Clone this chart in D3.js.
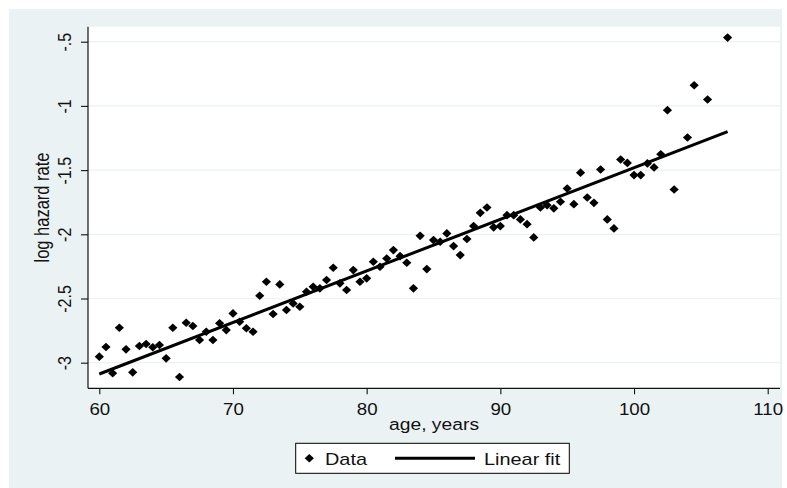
<!DOCTYPE html>
<html>
<head>
<meta charset="utf-8">
<script src="https://cdn.jsdelivr.net/npm/d3@7"></script>
<style>
  html, body { margin: 0; padding: 0; background: #fff; }
  svg { display: block; font-family: "Liberation Sans", Arial, sans-serif; }
</style>
</head>
<body>
<svg id="chart" width="787" height="488"></svg>
<script>
/* ───────────── DATA ───────────── */
const ages = [
  60, 60.5, 61, 61.5, 62, 62.5, 63, 63.5, 64, 64.5,
  65, 65.5, 66, 66.5, 67, 67.5, 68, 68.5, 69, 69.5,
  70, 70.5, 71, 71.5, 72, 72.5, 73, 73.5, 74, 74.5,
  75, 75.5, 76, 76.5, 77, 77.5, 78, 78.5, 79, 79.5,
  80, 80.5, 81, 81.5, 82, 82.5, 83, 83.5, 84, 84.5,
  85, 85.5, 86, 86.5, 87, 87.5, 88, 88.5, 89, 89.5,
  90, 90.5, 91, 91.5, 92, 92.5, 93, 93.5, 94, 94.5,
  95, 95.5, 96, 96.5, 97, 97.5, 98, 98.5, 99, 99.5,
  100, 100.5, 101, 101.5, 102, 102.5, 103, 104, 104.5, 105.5,
  107
];
const logHazard = [
  -2.953, -2.878, -3.082, -2.728, -2.896, -3.075, -2.870, -2.854, -2.880, -2.862,
  -2.966, -2.728, -3.111, -2.689, -2.714, -2.823, -2.759, -2.823, -2.693, -2.746,
  -2.616, -2.681, -2.732, -2.759, -2.479, -2.370, -2.621, -2.390, -2.590, -2.538,
  -2.564, -2.447, -2.409, -2.421, -2.356, -2.261, -2.382, -2.434, -2.279, -2.370,
  -2.343, -2.214, -2.253, -2.188, -2.123, -2.170, -2.222, -2.421, -2.012, -2.271,
  -2.045, -2.058, -1.993, -2.092, -2.162, -2.037, -1.936, -1.833, -1.791, -1.946,
  -1.936, -1.851, -1.851, -1.884, -1.921, -2.024, -1.791, -1.773, -1.798, -1.747,
  -1.643, -1.765, -1.520, -1.713, -1.755, -1.495, -1.884, -1.954, -1.417, -1.444,
  -1.539, -1.539, -1.448, -1.479, -1.376, -1.033, -1.651, -1.246, -0.839, -0.950,
  -0.468
];
const fitAges      = [60, 107];
const fitLogHazard = [-3.088, -1.201];

const xTicks       = [60, 70, 80, 90, 100, 110];
const yTicks       = [-3, -2.5, -2, -1.5, -1, -0.5];
const yTickLabels  = ["-3", "-2.5", "-2", "-1.5", "-1", "-.5"];
const xTitle       = "age, years";
const yTitle       = "log hazard rate";
const legendLabels = ["Data", "Linear fit"];

/* ───────────── LAYOUT ───────────── */
const W = 787, H = 488;
const plot = { left: 88, right: 780, top: 26.7, bottom: 388.3 };
const STRETCH = 1.17;            // the original text is a bit wide
const BG = "#eaf2f3";
const INK = "#111";

const svg = d3.select("#chart");

const x = d3.scaleLinear().domain([60, 110]).range([99.3, 767.7]);
const y = d3.scaleLinear().domain([-3, -0.5]).range([362.7, 41.7]);

// diamond marker, slightly wider than tall
const diamond = {
  draw(ctx) {
    const w = 4.6, h = 4.3;
    ctx.moveTo(0, -h); ctx.lineTo(w, 0); ctx.lineTo(0, h); ctx.lineTo(-w, 0); ctx.closePath();
  }
};
const marker = d3.symbol().type(diamond);

/* backgrounds */
svg.append("rect").attr("width", W).attr("height", H).attr("fill", "#fff");
svg.append("rect").attr("x", 9).attr("y", 9).attr("width", 773).attr("height", H - 9).attr("fill", BG);
svg.append("rect")
   .attr("x", plot.left).attr("y", plot.top)
   .attr("width", plot.right - plot.left).attr("height", plot.bottom - plot.top)
   .attr("fill", "#fff");

/* gridlines */
svg.append("g").selectAll("line").data(yTicks).join("line")
   .attr("x1", plot.left).attr("x2", plot.right)
   .attr("y1", d => y(d)).attr("y2", d => y(d))
   .attr("stroke", BG).attr("stroke-width", 1.2);

/* x axis */
const gx = svg.append("g")
   .attr("transform", `translate(0,${plot.bottom})`)
   .call(d3.axisBottom(x).tickValues(xTicks).tickSize(6).tickFormat(d3.format("d")));
gx.select(".domain").remove();
gx.selectAll(".tick line").attr("stroke", INK).attr("stroke-width", 1.1);
gx.selectAll(".tick text")
   .attr("y", 27).attr("dy", null)
   .attr("transform", `scale(${STRETCH},1)`)
   .attr("fill", INK).style("font-size", "16px");

/* y axis */
const gy = svg.append("g")
   .attr("transform", `translate(${plot.left},0)`)
   .call(d3.axisLeft(y).tickValues(yTicks).tickSize(7)
           .tickFormat((d, i) => yTickLabels[i]));
gy.select(".domain").remove();
gy.selectAll(".tick line").attr("stroke", INK).attr("stroke-width", 1.1);
gy.selectAll(".tick text")
   .attr("x", null).attr("dy", null)
   .attr("text-anchor", "middle")
   .attr("transform", `translate(-17,0) scale(${STRETCH},1) rotate(-90)`)
   .attr("fill", INK).style("font-size", "16px");

/* axis lines */
svg.append("line")
   .attr("x1", plot.left).attr("x2", plot.left)
   .attr("y1", plot.top).attr("y2", plot.bottom)
   .attr("stroke", INK).attr("stroke-width", 1.2);
svg.append("line")
   .attr("x1", plot.left).attr("x2", plot.right)
   .attr("y1", plot.bottom).attr("y2", plot.bottom)
   .attr("stroke", INK).attr("stroke-width", 1.2);

/* axis titles */
svg.append("text")
   .attr("transform", `translate(${(plot.left + plot.right) / 2},430) scale(${STRETCH},1)`)
   .attr("text-anchor", "middle").attr("fill", INK).style("font-size", "16.5px")
   .text(xTitle);
svg.append("text")
   .attr("transform", `translate(48.5,${(plot.top + plot.bottom) / 2}) scale(${STRETCH},1) rotate(-90)`)
   .attr("text-anchor", "middle").attr("fill", INK).style("font-size", "16.5px")
   .text(yTitle);

/* data points */
svg.append("g").selectAll("path").data(ages).join("path")
   .attr("d", marker)
   .attr("transform", (d, i) => `translate(${x(d)},${y(logHazard[i])})`)
   .attr("fill", "#000");

/* linear fit */
const line = d3.line().x(d => x(d[0])).y(d => y(d[1]));
svg.append("path")
   .datum(fitAges.map((a, i) => [a, fitLogHazard[i]]))
   .attr("d", line)
   .attr("fill", "none").attr("stroke", "#000").attr("stroke-width", 3);

/* legend */
const lg = svg.append("g");
lg.append("rect")
  .attr("x", 295.7).attr("y", 443.3).attr("width", 273.6).attr("height", 30)
  .attr("fill", "#fff").attr("stroke", "#000").attr("stroke-width", 1);
lg.append("path").attr("d", marker).attr("transform", "translate(309.3,458.3)").attr("fill", "#000");
lg.append("text")
  .attr("transform", `translate(325,465) scale(${STRETCH},1)`)
  .attr("fill", INK).style("font-size", "17px").text(legendLabels[0]);
lg.append("line")
  .attr("x1", 395).attr("x2", 475).attr("y1", 458.3).attr("y2", 458.3)
  .attr("stroke", "#000").attr("stroke-width", 3);
lg.append("text")
  .attr("transform", `translate(484,465) scale(${STRETCH},1)`)
  .attr("fill", INK).style("font-size", "17px").text(legendLabels[1]);
</script>
</body>
</html>
